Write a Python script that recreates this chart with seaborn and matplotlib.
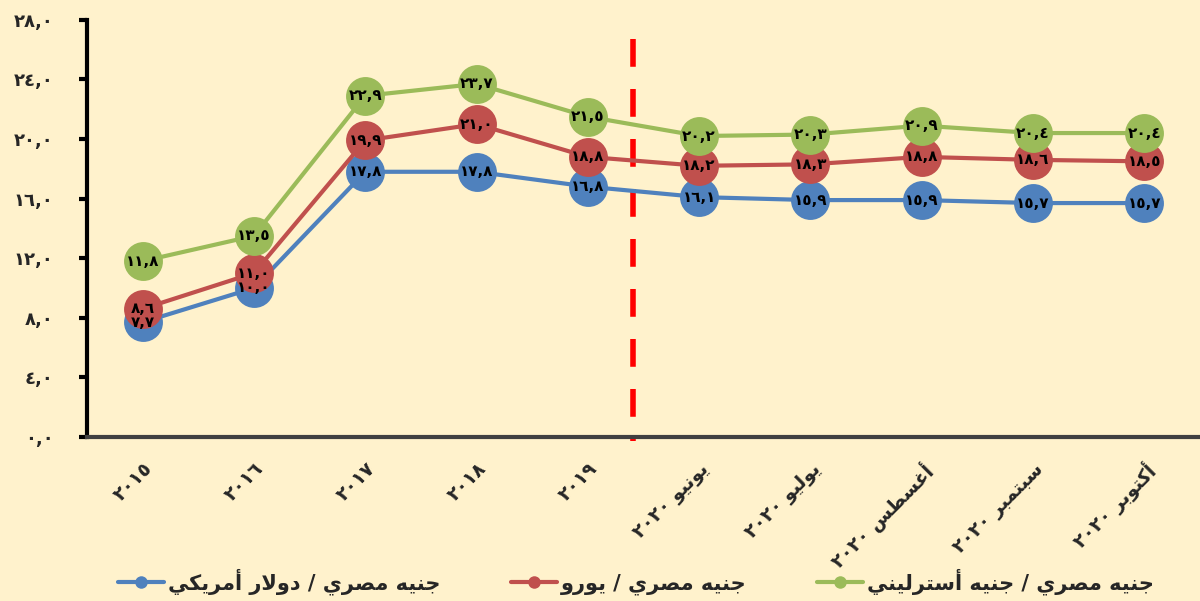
import re
import matplotlib
matplotlib.use("Agg")
from matplotlib import pyplot as plt
import seaborn as sb

# data
categories = ["٢٠١٥", "٢٠١٦", "٢٠١٧", "٢٠١٨", "٢٠١٩",
              "يونيو ٢٠٢٠", "يوليو ٢٠٢٠", "أغسطس ٢٠٢٠", "سبتمبر ٢٠٢٠", "أكتوبر ٢٠٢٠"]
usd = [7.7, 10.0, 17.8, 17.8, 16.8, 16.1, 15.9, 15.9, 15.7, 15.7]
eur = [8.6, 11.0, 19.9, 21.0, 18.8, 18.2, 18.3, 18.8, 18.6, 18.5]
gbp = [11.8, 13.5, 22.9, 23.7, 21.5, 20.2, 20.3, 20.9, 20.4, 20.4]
series_names = ["جنيه مصري / دولار أمريكي", "جنيه مصري / يورو", "جنيه مصري / جنيه أسترليني"]
colors = ["#4F81BD", "#C0504D", "#9BBB59"]
y_ticks = [0, 4, 8, 12, 16, 20, 24, 28]

# simple arabic shaping (matplotlib has no text shaping)
FORMS = {
    'ا': ('\uFE8D', '\uFE8E', None, None), 'أ': ('\uFE83', '\uFE84', None, None),
    'ب': ('\uFE8F', '\uFE90', '\uFE91', '\uFE92'), 'ت': ('\uFE95', '\uFE96', '\uFE97', '\uFE98'),
    'ج': ('\uFE9D', '\uFE9E', '\uFE9F', '\uFEA0'), 'د': ('\uFEA9', '\uFEAA', None, None),
    'ر': ('\uFEAD', '\uFEAE', None, None), 'س': ('\uFEB1', '\uFEB2', '\uFEB3', '\uFEB4'),
    'ص': ('\uFEB9', '\uFEBA', '\uFEBB', '\uFEBC'), 'ط': ('\uFEC1', '\uFEC2', '\uFEC3', '\uFEC4'),
    'غ': ('\uFECD', '\uFECE', '\uFECF', '\uFED0'), 'ك': ('\uFED9', '\uFEDA', '\uFEDB', '\uFEDC'),
    'ل': ('\uFEDD', '\uFEDE', '\uFEDF', '\uFEE0'), 'م': ('\uFEE1', '\uFEE2', '\uFEE3', '\uFEE4'),
    'ن': ('\uFEE5', '\uFEE6', '\uFEE7', '\uFEE8'), 'ه': ('\uFEE9', '\uFEEA', '\uFEEB', '\uFEEC'),
    'و': ('\uFEED', '\uFEEE', None, None), 'ي': ('\uFEF1', '\uFEF2', '\uFEF3', '\uFEF4'),
}

def dual(c):
    return c in FORMS and FORMS[c][2] is not None

def shape(s):
    res = []
    i = 0
    while i < len(s):
        c = s[i]
        if c not in FORMS:
            res.append(c)
            i += 1
            continue
        link_prev = i > 0 and dual(s[i-1])
        if c == 'ل' and i + 1 < len(s) and s[i+1] == 'ا':
            res.append('\uFEFC' if link_prev else '\uFEFB')
            i += 2
            continue
        link_next = dual(c) and i + 1 < len(s) and s[i+1] in FORMS
        iso, fin, ini, med = FORMS[c]
        if link_prev and link_next:
            res.append(med)
        elif link_prev:
            res.append(fin)
        elif link_next:
            res.append(ini)
        else:
            res.append(iso)
        i += 1
    vis = ''.join(res)[::-1]
    return re.sub(r'[\u0660-\u0669,.]+', lambda m: m.group(0)[::-1], vis)

def ar_num(v):
    return f"{v:.1f}".replace('.', ',').translate(str.maketrans('0123456789', '٠١٢٣٤٥٦٧٨٩'))

sb.set_theme(style="white")
plt.rcParams['font.family'] = ['DejaVu Sans']
plt.rcParams['font.weight'] = 'bold'
bg = "#FFF2CC"

fig = plt.figure(figsize=(12, 6.01), dpi=100, facecolor=bg)
ax = fig.add_axes([0.0725, 0.273, 0.9275, 0.694])
ax.set_facecolor(bg)

x = list(range(len(categories)))
for vals, name, col, z in zip([usd, eur, gbp], series_names, colors, [3, 4, 5]):
    sb.lineplot(x=x, y=vals, color=col, linewidth=3, marker='o', markersize=28,
                markeredgewidth=0, label=shape(name), ax=ax, zorder=z)
    for xi, v in zip(x, vals):
        ax.text(xi, v, ar_num(v), ha='center', va='center', fontsize=11,
                fontweight='bold', color='black', zorder=10)

# dashed separator between yearly and monthly data
ax.plot([4.41, 4.41], [26.7, -0.3], color='#FF0000', linewidth=4,
        linestyle=(0, (5, 4)), zorder=2, clip_on=False)

ax.set_xlim(-0.5, 9.5)
ax.set_ylim(0, 28)
ax.set_yticks(y_ticks)
ax.set_yticklabels([ar_num(t) for t in y_ticks], fontsize=13, fontweight='bold')
ax.set_xticks(x)
ax.set_xticklabels([shape(c) for c in categories], rotation=45, ha='right',
                   rotation_mode='anchor', fontsize=13.5, fontweight='bold')
ax.tick_params(axis='y', left=True, length=6, width=3, color='black', pad=18)
ax.tick_params(axis='x', bottom=False, pad=10)
for s in ['top', 'right']:
    ax.spines[s].set_visible(False)
ax.spines['left'].set_color('black')
ax.spines['left'].set_linewidth(3)
ax.spines['bottom'].set_color('#404040')
ax.spines['bottom'].set_linewidth(3)
ax.set_xlabel('')
ax.set_ylabel('')

leg = ax.legend(loc='center', bbox_to_anchor=(0.53, 0.032), bbox_transform=fig.transFigure,
                ncol=3, frameon=False, handlelength=2.2, columnspacing=3.4,
                handletextpad=0.2, prop={'weight': 'bold', 'size': 15})
for h in leg.legend_handles:
    h.set_markersize(9)

fig.savefig("out.png", dpi=100, facecolor=bg)
